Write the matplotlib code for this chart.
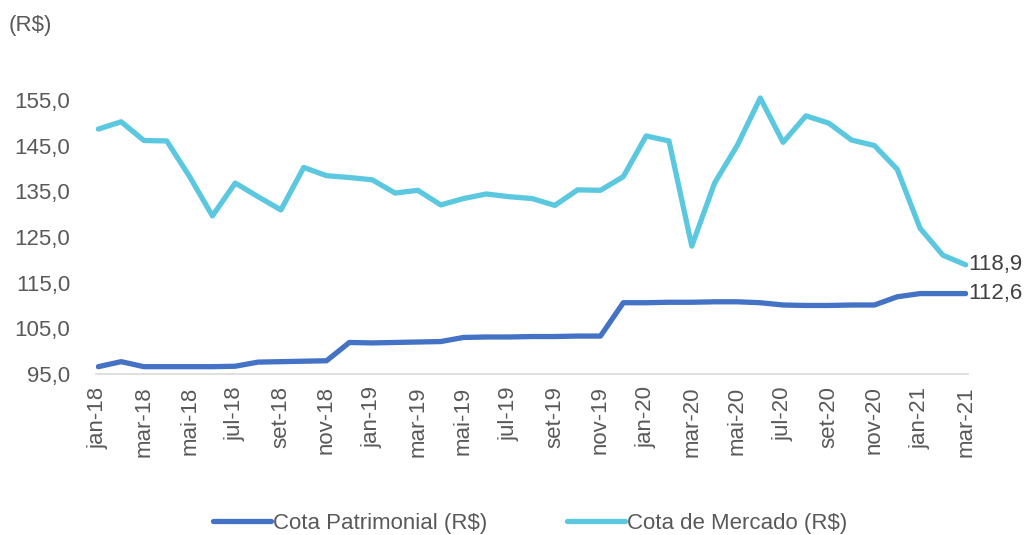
import numpy as np
import matplotlib.pyplot as plt

plt.rcParams['font.family'] = ['Liberation Sans', 'DejaVu Sans']

# ============================================================
# Data
# ============================================================
months = ['jan', 'fev', 'mar', 'abr', 'mai', 'jun', 'jul', 'ago', 'set', 'out', 'nov', 'dez']
years = ['18', '19', '20', '21']
categories = [f'{m}-{y}' for y in years for m in months][:39]  # jan-18 .. mar-21

cota_patrimonial = [96.6, 97.7, 96.6, 96.6, 96.6, 96.6, 96.7, 97.6, 97.7, 97.8, 97.9, 101.9,
                    101.8, 101.9, 102.0, 102.1, 103.0, 103.1, 103.1, 103.2, 103.2, 103.3, 103.3,
                    110.6, 110.6, 110.7, 110.7, 110.8, 110.8, 110.6, 110.1, 110.0, 110.0, 110.1,
                    110.1, 111.9, 112.6, 112.6, 112.6]
cota_mercado = [148.6, 150.2, 146.1, 146.0, 138.2, 129.6, 136.8, 133.8, 130.9, 140.2, 138.4, 138.0,
                137.5, 134.6, 135.2, 132.0, 133.4, 134.4, 133.8, 133.4, 131.9, 135.3, 135.2,
                138.2, 147.1, 146.0, 123.0, 136.8, 145.1, 155.4, 145.7, 151.5, 149.9, 146.2,
                145.0, 139.8, 126.9, 121.0, 118.9]
y_ticks = [95, 105, 115, 125, 135, 145, 155]

c_pat = '#4472C4'
c_mer = '#5BC8E0'
c_txt = '#595959'
fs = 16

fig = plt.figure(figsize=(10.32, 5.35), dpi=100)
ax = fig.add_axes([96 / 1032, 1 - 374 / 535, (968 - 96) / 1032, (374 - 77) / 535])

x = np.arange(len(categories))
ax.plot(x, cota_patrimonial, color=c_pat, lw=3.8, solid_capstyle='round', label='Cota Patrimonial (R$)')
ax.plot(x, cota_mercado, color=c_mer, lw=3.8, solid_capstyle='round', label='Cota de Mercado (R$)')

ax.set_xlim(-0.1, len(categories) - 0.9)
ax.set_ylim(95, 160)
ax.set_yticks(y_ticks)
ax.set_yticklabels([f'{v:.1f}'.replace('.', ',') for v in y_ticks], fontsize=fs, color=c_txt)
ax.set_xticks(x[::2])
ax.set_xticklabels(categories[::2], rotation=90, fontsize=fs, color=c_txt)
ax.tick_params(length=0, pad=9)
ax.tick_params(axis='y', pad=18.5)

for s in ['top', 'right', 'left']:
    ax.spines[s].set_visible(False)
ax.spines['bottom'].set_color('#D9D9D9')
ax.spines['bottom'].set_linewidth(1.2)

# last-value labels
ax.annotate(f'{cota_mercado[-1]:.1f}'.replace('.', ','), (x[-1], cota_mercado[-1]),
            xytext=(2, 0), textcoords='offset points', va='center', ha='left',
            fontsize=fs, color='#404040', annotation_clip=False)
ax.annotate(f'{cota_patrimonial[-1]:.1f}'.replace('.', ','), (x[-1], cota_patrimonial[-1]),
            xytext=(2, 0), textcoords='offset points', va='center', ha='left',
            fontsize=fs, color='#404040', annotation_clip=False)

fig.text(9 / 1032, 1 - 26 / 535, '(R$)', fontsize=fs, color=c_txt, va='center', ha='left')

fig.legend(loc='center', bbox_to_anchor=(530 / 1032, 1 - 523 / 535), ncol=2, frameon=False,
           fontsize=fs, handlelength=2.6, handletextpad=0.1, columnspacing=3.6,
           labelcolor=c_txt)

fig.savefig('out.png', dpi=100)
